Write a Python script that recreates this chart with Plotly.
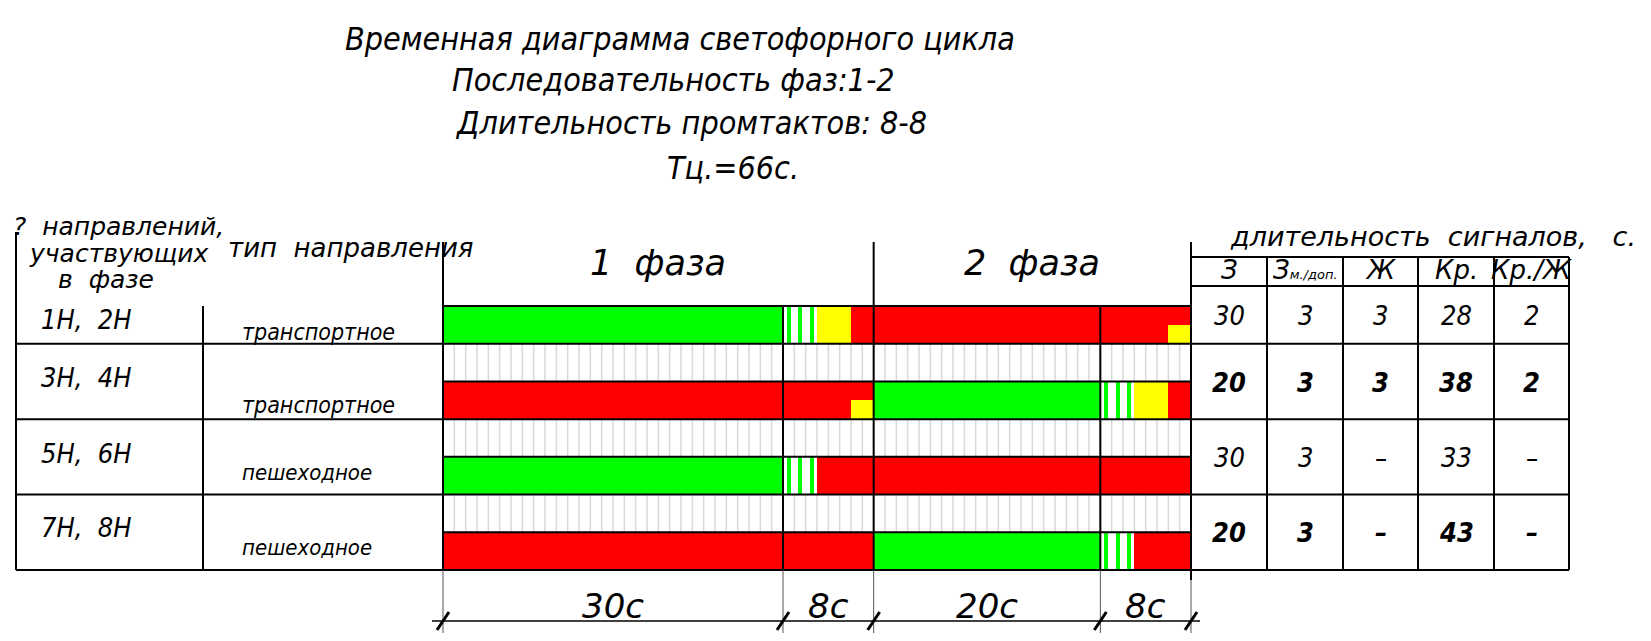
import plotly.graph_objects as go

# page is 1651x641; the html body has an 8px margin, so the figure itself is smaller
PAGE_OFF = 8
W, H = 1651 - 2 * PAGE_OFF, 641 - 2 * PAGE_OFF

# ---------------- data ----------------
title_lines = ["Временная диаграмма светофорного цикла",
               "Последовательность фаз:1-2",
               "Длительность промтактов: 8-8",
               "Тц.=66с."]
phase_names = ["1  фаза", "2  фаза"]
phase_main = [30, 20]        # main tact, s
phase_inter = [8, 8]         # intertact, s

directions = ["1Н, 2Н", "3Н, 4Н", "5Н, 6Н", "7Н, 8Н"]
direction_types = ["транспортное", "транспортное", "пешеходное", "пешеходное"]

signals_1 = ["green", "flash", "yellow", "red", "redyellow"]
durations_1 = [30, 3, 3, 28, 2]
signals_2 = ["red", "redyellow", "green", "flash", "yellow", "red"]
durations_2 = [36, 2, 20, 3, 3, 2]
signals_3 = ["green", "flash", "red"]
durations_3 = [30, 3, 33]
signals_4 = ["red", "green", "flash", "red"]
durations_4 = [38, 20, 3, 5]

table_columns = ["З", "З<span style='font-size:13px'>м./доп.</span>", "Ж", "Кр.", "Кр./Ж"]
col_green = ["30", "20", "30", "20"]
col_green_extra = ["3", "3", "3", "3"]
col_yellow = ["3", "3", "–", "–"]
col_red = ["28", "38", "33", "43"]
col_red_yellow = ["2", "2", "–", "–"]
row_bold = [False, True, False, True]

# ---------------- geometry (page pixel layout) ----------------
X0, X1 = 443.0, 1191.0          # t = 0 .. cycle end
YB, YT = 570.0, 306.0           # bottom of last bar row / top of first bar row
cycle = sum(phase_main) + sum(phase_inter)
SX = (X1 - X0) / cycle
SY = (YB - YT) / 7.0


def X(px):
    return (px - X0) / SX


def Y(py):
    return (YB - py) / SY


GREEN, RED, YELLOW = "#00ff00", "#ff0000", "#ffff00"
NARROW = "Liberation Sans Narrow, DejaVu Sans Condensed, Liberation Sans, sans-serif"
THIN = "DejaVu Sans, Liberation Sans, sans-serif"

fig = go.Figure()

# ---------------- stripe rows (1 s grid) ----------------
sx, sy = [], []
for r in range(3):
    lo, hi = 5 - 2 * r, 6 - 2 * r
    for t in range(1, cycle):
        sx += [t, t, None]
        sy += [lo, hi, None]
fig.add_trace(go.Scatter(x=sx, y=sy, mode="lines", line=dict(color="#d9d9d9", width=1.5),
                         hoverinfo="skip", showlegend=False))

# ---------------- signal bars ----------------
rows_sig = [(signals_1, durations_1), (signals_2, durations_2),
            (signals_3, durations_3), (signals_4, durations_4)]
full = {"green": ([], [], [], []), "red": ([], [], [], []), "yellow": ([], [], [], [])}
half_y = ([], [], [], [])
flash = ([], [], [], [])
for i, (sigs, durs) in enumerate(rows_sig):
    bottom = 6 - 2 * i
    yc = bottom + 0.5
    t = 0
    for s, d in zip(sigs, durs):
        if s in ("green", "red", "yellow"):
            full[s][0].append(d); full[s][1].append(t); full[s][2].append(yc); full[s][3].append(1.0)
        elif s == "redyellow":
            full["red"][0].append(d); full["red"][1].append(t); full["red"][2].append(yc); full["red"][3].append(1.0)
            half_y[0].append(d); half_y[1].append(t); half_y[2].append(bottom + 0.25); half_y[3].append(0.5)
        elif s == "flash":
            for k in range(d):
                flash[0].append(0.37); flash[1].append(t + k + 0.35); flash[2].append(yc); flash[3].append(1.0)
        t += d

for col, grp in [(GREEN, full["green"]), (RED, full["red"]), (YELLOW, full["yellow"]),
                 (YELLOW, half_y), (GREEN, flash)]:
    fig.add_trace(go.Bar(orientation="h", x=grp[0], base=grp[1], y=grp[2], width=grp[3],
                         marker=dict(color=col, line=dict(width=0)),
                         hoverinfo="skip", showlegend=False))

shapes = []


def line(x0, y0, x1, y1, color="#000", width=2):
    shapes.append(dict(type="line", xref="x", yref="y", x0=x0, y0=y0, x1=x1, y1=y1,
                       line=dict(color=color, width=width), layer="above"))


# boundaries in time
bounds = [0]
for m, it in zip(phase_main, phase_inter):
    bounds.append(bounds[-1] + m)
    bounds.append(bounds[-1] + it)
phase_starts = [0, bounds[2]]

# horizontal grid lines of the diagram
for k in range(8):
    if k % 2 == 0:
        line(X(16), k, X(1569), k)
    else:
        line(0, k, cycle, k)

# vertical lines
for b in bounds:
    if b in (0, bounds[2], cycle):
        line(b, Y(242), b, 0)
    else:
        line(b, 7, b, 0)
    # extension lines for dimensions
    line(b, 0, b, Y(634), color="#555", width=1)
line(cycle, 0, cycle, Y(580))

# left table
line(X(16), Y(232), X(16), 0)
line(X(203), 7, X(203), 0)

# right table
col_x = [1191, 1267, 1343, 1418, 1494, 1569]
line(X(1191), Y(257), X(1569), Y(257))
line(X(1191), Y(286), X(1569), Y(286))
for cx in col_x[1:]:
    line(X(cx), Y(257), X(cx), 0)

# dimension line
line(X(432), Y(621), X(1200), Y(621), width=1.5)
for b in bounds:
    line(b - 6 / SX, Y(630), b + 6 / SX, Y(612), width=3)

annotations = []


def text(x, y, s, size, family=NARROW, weight="normal", color="#000", xanchor="center"):
    annotations.append(dict(x=x, y=y, xref="x", yref="y", text=s, showarrow=False,
                            xanchor=xanchor, yanchor="middle",
                            font=dict(family=family, size=size, color=color, style="italic", weight=weight)))


# titles
title_pos = [(680, 39), (673, 80), (691, 123), (733, 168)]
for s, (px, py) in zip(title_lines, title_pos):
    text(X(px), Y(py), s, 32)

# phase headers
for name, st, m, it in zip(phase_names, phase_starts, phase_main, phase_inter):
    text(st + (m + it) / 2, Y(263), name.replace(" ", "\u00a0"), 35, family=THIN, weight=200)

# left table headers
text(X(118), Y(226), "?\u00a0\u00a0направлений,", 25, family=THIN, weight=200)
text(X(119), Y(253), "участвующих", 25, family=THIN, weight=200)
text(X(106), Y(279), "в\u00a0\u00a0фазе", 25, family=THIN, weight=200)
text(X(350), Y(248), "тип\u00a0\u00a0направления", 26, family=THIN, weight=200)

# direction rows
dir_y = [319, 377, 453, 527]
type_y = [332, 405, 472, 547]
for d, tp, dy, ty in zip(directions, direction_types, dir_y, type_y):
    text(X(39), Y(dy), d.replace(" ", "\u00a0\u00a0"), 27, xanchor="left")
    text(X(240), Y(ty), tp, 23 if tp.startswith("т") else 22, xanchor="left")

# dimension labels
segs = []
for m, it in zip(phase_main, phase_inter):
    segs += [m, it]
t = 0
for d in segs:
    text(t + d / 2, Y(606), f"{d}с", 34, family=THIN, weight=200)
    t += d

# right table
text(X(1433), Y(236), "длительность\u00a0\u00a0сигналов,\u00a0\u00a0\u00a0с.", 27, family=THIN, weight=200)
col_cx = [(a + b) / 2 for a, b in zip(col_x[:-1], col_x[1:])]
for c, cx in zip(table_columns, col_cx):
    text(X(cx), Y(270), c, 26, family=THIN, weight=200)
row_cy = [315, 382, 457, 532]
for j, col in enumerate([col_green, col_green_extra, col_yellow, col_red, col_red_yellow]):
    for i, v in enumerate(col):
        text(X(col_cx[j]), Y(row_cy[i]), v, 27, weight="bold" if row_bold[i] else "normal")

fig.update_layout(
    width=W, height=H, margin=dict(l=0, r=0, t=0, b=0),
    paper_bgcolor="white", plot_bgcolor="white",
    barmode="overlay", bargap=0,
    xaxis=dict(domain=[0, 1], range=[X(PAGE_OFF), X(PAGE_OFF + W)], visible=False, fixedrange=True),
    yaxis=dict(domain=[0, 1], range=[Y(PAGE_OFF + H), Y(PAGE_OFF)], visible=False, fixedrange=True),
    shapes=shapes, annotations=annotations, showlegend=False,
)

fig.write_html("out.html")
